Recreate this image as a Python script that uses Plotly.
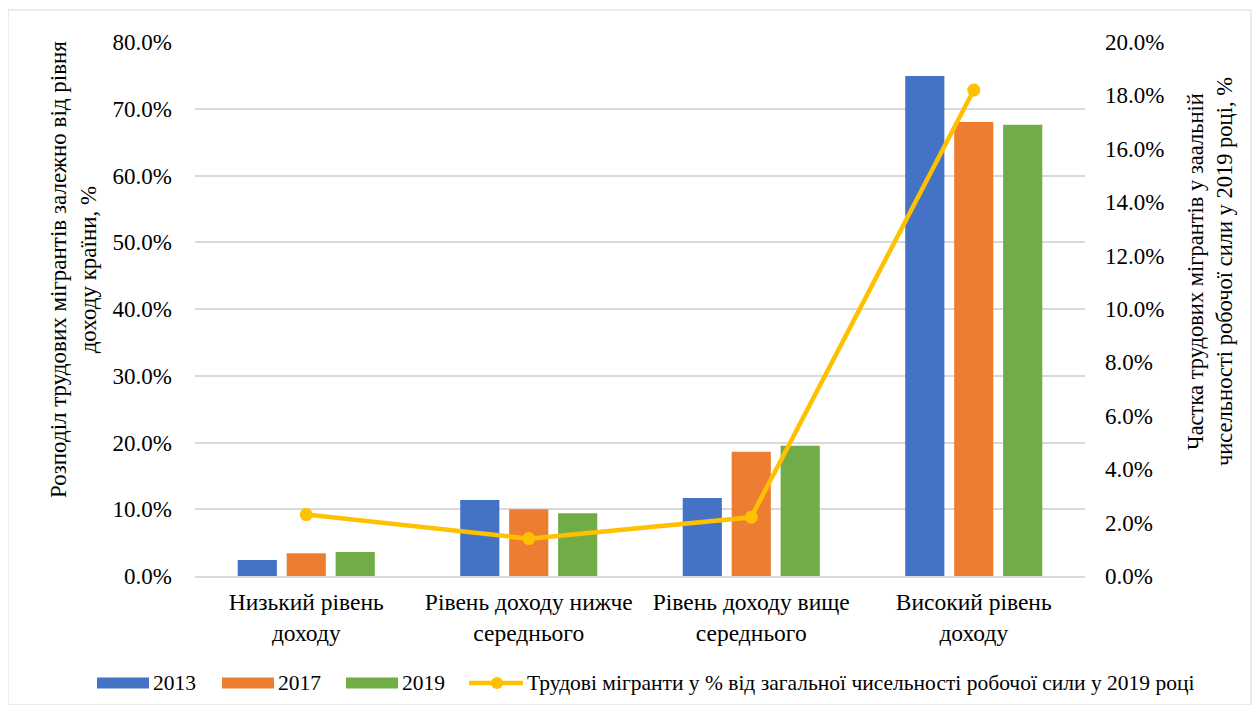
import plotly.graph_objects as go

CATEGORIES = ["Низький рівень<br>доходу", "Рівень доходу нижче<br>середнього",
              "Рівень доходу вище<br>середнього", "Високий рівень<br>доходу"]
YEARS = ["2013", "2017", "2019"]
SHARE_2013 = [2.4, 11.4, 11.7, 74.9]
SHARE_2017 = [3.4, 10.0, 18.6, 68.0]
SHARE_2019 = [3.6, 9.4, 19.5, 67.6]
MIGRANTS_PCT_2019 = [2.3, 1.4, 2.2, 18.2]
LINE_NAME = "Трудові мігранти у % від загальної чисельності робочої сили у 2019 році"

BLUE = "#4472C4"
ORANGE = "#ED7D31"
GREEN = "#70AD47"
GOLD = "#FFC000"
GRID = "#D9D9D9"
FONT = "Liberation Serif"

# page body has an 8px margin, so the figure is drawn 8px in from the window edge
OFF = 8
W, H = 1244, 697
L, T = 195 - OFF, 42 - OFF
R = W - (1085 - OFF)
B = H - (576 - OFF)
pw, ph = W - L - R, H - T - B


def sx(x):  # screen px -> paper x
    return (x - OFF - L) / pw


def sy(y):  # screen px -> paper y
    return (H - B - (y - OFF)) / ph


fig = go.Figure()
for name, vals, col in zip(YEARS, [SHARE_2013, SHARE_2017, SHARE_2019], [BLUE, ORANGE, GREEN]):
    fig.add_trace(go.Bar(x=CATEGORIES, y=vals, name=name, marker_color=col,
                         marker_line_width=0))

fig.add_trace(go.Scatter(
    x=CATEGORIES, y=MIGRANTS_PCT_2019, yaxis="y2", mode="lines+markers", name=LINE_NAME,
    line=dict(color=GOLD, width=4.5), marker=dict(size=13, color=GOLD),
))

# outer chart border
fig.add_shape(type="rect", xref="paper", yref="paper",
              x0=sx(8), x1=sx(1251), y0=sy(705), y1=sy(10),
              line=dict(color=GRID, width=1))

# Excel-style legend: wide swatches below the plot
legend_y = 683
for name, col, x0 in zip(YEARS, [BLUE, ORANGE, GREEN], [97, 222, 346]):
    fig.add_shape(type="rect", xref="paper", yref="paper", line_width=0, fillcolor=col,
                  x0=sx(x0), x1=sx(x0 + 52), y0=sy(legend_y + 5.5), y1=sy(legend_y - 5.5))
    fig.add_annotation(text=name, xref="paper", yref="paper", x=sx(x0 + 54), y=sy(legend_y),
                       xanchor="left", yanchor="middle", showarrow=False,
                       font=dict(size=21.5, color="#000"))
fig.add_shape(type="line", xref="paper", yref="paper", x0=sx(469), x1=sx(523),
              y0=sy(legend_y), y1=sy(legend_y), line=dict(color=GOLD, width=4.5))
fig.add_shape(type="circle", xref="paper", yref="paper", line_width=0, fillcolor=GOLD,
              x0=sx(491), x1=sx(503), y0=sy(legend_y + 6), y1=sy(legend_y - 6))
fig.add_annotation(text=LINE_NAME, xref="paper", yref="paper", x=sx(525), y=sy(legend_y),
                   xanchor="left", yanchor="middle", showarrow=False,
                   font=dict(size=21.5, color="#000"))

# axis titles, rotated, placed where the Excel chart has them
fig.add_annotation(text="Розподіл трудових мігрантів залежно від рівня<br>доходу країни, %",
                   xref="paper", yref="paper", x=sx(73), y=sy(270),
                   xanchor="center", yanchor="middle",
                   textangle=-90, showarrow=False, font=dict(size=23, color="#000"))
fig.add_annotation(text="Частка трудових мігрантів у заальній<br>чисельності робочої сили у 2019 році, %",
                   xref="paper", yref="paper", x=sx(1210), y=sy(272),
                   xanchor="center", yanchor="middle",
                   textangle=-90, showarrow=False, font=dict(size=22.5, color="#000"))

fig.update_layout(
    width=W, height=H,
    paper_bgcolor="white", plot_bgcolor="white",
    font=dict(family=FONT, color="#000", size=23),
    margin=dict(l=L, r=R, t=T, b=B),
    barmode="group", bargap=0.34, bargroupgap=0.2,
    showlegend=False,
    xaxis=dict(showgrid=False, showline=True, linecolor=GRID, linewidth=1.5,
               ticks="", tickfont=dict(family=FONT, size=23.5), ticklabelstandoff=4),
    yaxis=dict(range=[0, 80], dtick=10, tickformat=".1f", ticksuffix="%",
               gridcolor=GRID, gridwidth=1.5, zeroline=False, ticks="",
               tickfont=dict(family=FONT, size=23), ticklabelstandoff=22),
    yaxis2=dict(range=[0, 20], dtick=2, tickformat=".1f", ticksuffix="%",
                overlaying="y", side="right", showgrid=False, zeroline=False,
                ticks="", tickfont=dict(family=FONT, size=23), ticklabelstandoff=19),
)

fig.write_html("out.html")
